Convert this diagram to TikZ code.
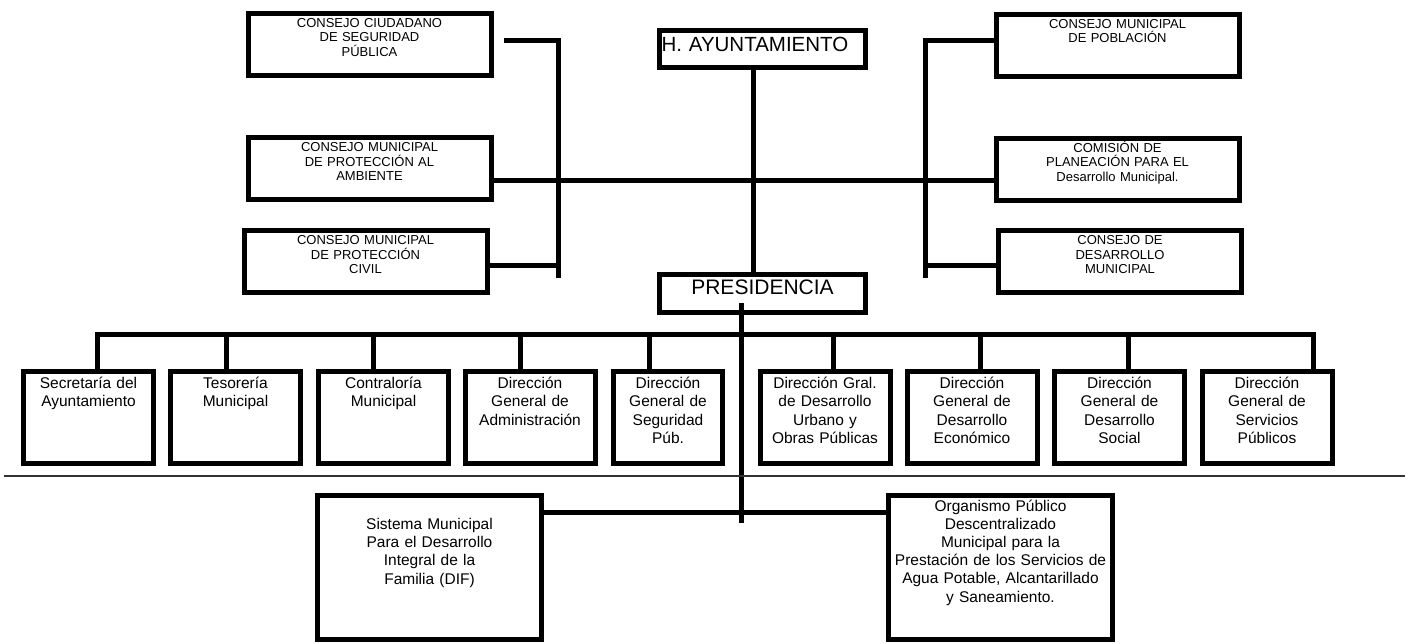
\documentclass[tikz,border=0pt]{standalone}
\usepackage{fontspec}
\setmainfont{Liberation Sans}
\begin{document}
\begin{tikzpicture}[x=1pt,y=-1pt,
	box/.style={draw,line width=5pt,inner sep=0pt,align=center},
	consejo/.style={box,text width=243pt,text height=14pt,text depth=48pt,font=\fontsize{13}{14.5}\selectfont},
	mando/.style={box,text width=206pt,font=\fontsize{20.5}{24}\selectfont},
	area/.style={box,text width=130pt,text height=17pt,text depth=75pt,font=\fontsize{15.5}{18.3}\selectfont},
	organismo/.style={box,text width=224pt,text height=15.5pt,text depth=128.5pt,font=\fontsize{15.5}{18.2}\selectfont},
	linea/.style={line width=5pt}]
	\useasboundingbox (0,0) rectangle (1411,644);
	
	\node[mando,align=left,text width=202pt,inner xsep=2pt,text height=21pt,text depth=16pt] (ayto) at (762.5,49) {H. AYUNTAMIENTO};
	\node[mando,font=\fontsize{21}{24}\selectfont,text height=20.5pt,text depth=17.5pt] (pres) at (762.5,293.5) {PRESIDENCIA};
	
	\node[consejo] (seg) at (369.5,44.5) {CONSEJO CIUDADANO\\DE SEGURIDAD\\PÚBLICA};
	\node[consejo] (amb) at (369.5,169) {CONSEJO MUNICIPAL\\DE PROTECCIÓN AL\\AMBIENTE};
	\node[consejo] (civ) at (365.5,262) {CONSEJO MUNICIPAL\\DE PROTECCIÓN\\CIVIL};
	\node[consejo] (pob) at (1117.5,45.5) {CONSEJO MUNICIPAL\\DE POBLACIÓN};
	\node[consejo] (plan) at (1117.5,169.5) {COMISIÓN DE\\PLANEACIÓN PARA EL\\Desarrollo Municipal.};
	\node[consejo] (des) at (1120,262) {CONSEJO DE\\DESARROLLO\\MUNICIPAL};
	
	\node[area] (sec) at (88.5,417.5) {Secretaría del\\Ayuntamiento};
	\node[area] (tes) at (235.5,417.5) {Tesorería\\Municipal};
	\node[area] (con) at (383.5,417.5) {Contraloría\\Municipal};
	\node[area] (adm) at (530,417.5) {Dirección\\General de\\Administración};
	\node[area,text width=109pt] (sp) at (668,417.5) {Dirección\\General de\\Seguridad\\Púb.};
	\node[area] (dur) at (825,417.5) {Dirección Gral.\\de Desarrollo\\Urbano y\\Obras Públicas};
	\node[area] (eco) at (972,417.5) {Dirección\\General de\\Desarrollo\\Económico};
	\node[area] (soc) at (1119.5,417.5) {Dirección\\General de\\Desarrollo\\Social};
	\node[area] (ser) at (1267,417.5) {Dirección\\General de\\Servicios\\Públicos};
	
	\node[organismo,text height=34pt,text depth=110pt] (dif) at (429.5,567.5) {Sistema Municipal\\Para el Desarrollo\\Integral de la\\Familia (DIF)};
	\node[organismo] (agua) at (1000.5,567.5) {Organismo Público\\Descentralizado\\Municipal para la\\Prestación de los Servicios de\\Agua Potable, Alcantarillado\\y Saneamiento.};
	
	\coordinate (tronco) at (753,0);
	\coordinate (mid) at (753,181);
	\coordinate (izq) at (558,278);
	\coordinate (der) at (925,278);
	\coordinate (bus) at (741,335);
	\coordinate (fin) at (741,523);
	
	\draw[linea] (tronco |- ayto.south) -- (tronco |- pres.north);
	\draw[linea] (amb.east |- mid) -- (plan.west |- mid);
	\draw[linea] ([xshift=10pt,yshift=3.5pt]seg.east) -| (izq);
	\draw[linea] ([xshift=-5pt,yshift=-4pt]civ.east) -| (izq);
	\draw[linea] ([xshift=5pt,yshift=4.5pt]pob.west) -| (der);
	\draw[linea] ([yshift=-4pt]des.west) -| (der);
	
	\draw[linea] ([xshift=-21.5pt,yshift=12pt]pres.south) -- (fin);
	\foreach \n/\d in {sec/8.5,tes/-9.5,con/-10.5,adm/-10,sp/-19,dur/8,eco/8,soc/8.5,ser/46}
	\draw[linea] ([xshift=\d pt]\n.north) |- (bus);
	\draw[linea] ([xshift=-5pt,yshift=55.5pt]dif.east) -- ([xshift=5pt,yshift=55.5pt]agua.west);
	
	\draw[line width=1.2pt,black!80] (4,476) -- (1405,476);
\end{tikzpicture}
\end{document}
